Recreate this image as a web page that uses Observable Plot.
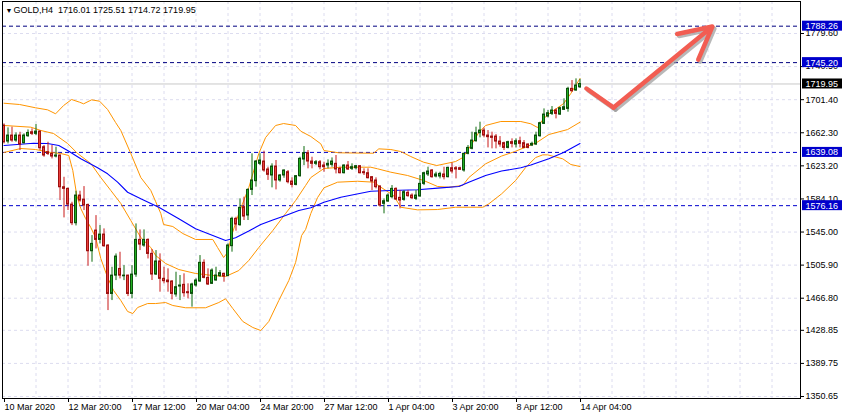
<!DOCTYPE html>
<html><head><meta charset="utf-8">
<script src="https://cdn.jsdelivr.net/npm/d3@7"></script>
<script src="https://cdn.jsdelivr.net/npm/@observablehq/plot@0.6"></script>
<style>body{margin:0;background:#fff}</style>
</head><body><div id="chart"></div>
<script>
const symbol = "GOLD", timeframe = "H4";

const opens = [1670.8,1651.9,1659.0,1653.1,1659.0,1649.9,1658.2,1662.9,1661.0,1663.7,
1645.2,1639.3,1637.3,1634.2,1635.4,1597.9,1596.0,1577.4,1555.4,1588.1,
1583.3,1577.0,1522.3,1546.7,1535.7,1542.0,1529.0,1471.8,1493.5,1501.4,
1492.7,1493.5,1471.8,1494.7,1535.7,1529.0,1535.7,1519.2,1494.8,1510.2,
1489.7,1487.7,1486.5,1471.2,1480.6,1482.6,1473.9,1471.9,1481.8,1486.5,
1508.6,1490.8,1483.8,1487.7,1492.8,1495.6,1492.8,1528.3,1560.6,1553.1,
1574.4,1564.5,1594.8,1605.1,1625.6,1628.3,1618.9,1611.8,1622.4,1605.9,
1611.8,1615.7,1604.7,1600.7,1611.0,1630.7,1638.2,1628.3,1625.6,1627.5,
1623.6,1623.6,1624.4,1625.6,1619.7,1614.5,1623.6,1619.7,1620.4,1622.8,
1615.7,1614.5,1609.8,1605.9,1598.8,1578.3,1581.0,1586.2,1596.0,1585.4,
1583.0,1591.3,1588.1,1584.2,1587.0,1601.9,1613.0,1617.7,1610.6,1610.6,
1613.0,1609.8,1620.4,1620.4,1620.4,1617.7,1637.4,1643.3,1652.3,1661.8,
1664.9,1659.0,1657.8,1657.8,1651.9,1650.0,1644.4,1651.2,1648.4,1652.3,
1650.0,1648.4,1647.2,1648.4,1658.2,1672.8,1681.5,1684.6,1688.6,1683.8,
1689.4,1690.5,1714.2,1712.2,1716.01];
const highs = [1672.8,1668.1,1668.9,1662.1,1662.9,1661.0,1665.7,1666.9,1672.0,1664.5,
1647.2,1651.1,1647.2,1645.2,1636.0,1609.7,1597.0,1580.2,1593.2,1593.2,
1598.7,1578.0,1540.8,1564.4,1552.6,1548.7,1530.0,1503.4,1519.1,1521.1,
1505.3,1494.0,1505.3,1554.6,1547.5,1547.5,1536.9,1524.3,1523.1,1519.2,
1503.4,1501.5,1487.7,1497.5,1493.6,1495.6,1483.8,1484.5,1489.7,1517.2,
1512.1,1501.5,1501.5,1503.4,1499.5,1496.4,1531.0,1562.5,1562.5,1584.2,
1586.2,1596.0,1637.4,1629.5,1637.4,1640.5,1621.6,1625.6,1629.5,1613.0,
1618.5,1617.7,1609.0,1611.8,1633.4,1646.0,1641.3,1633.4,1629.5,1629.5,
1627.5,1630.3,1632.6,1635.4,1621.6,1624.4,1628.3,1625.6,1623.6,1623.6,
1619.7,1619.7,1610.5,1609.0,1599.5,1584.2,1590.1,1599.9,1597.2,1594.0,
1594.0,1594.0,1590.1,1594.0,1611.8,1615.7,1621.6,1618.9,1615.7,1615.7,
1621.6,1621.6,1626.7,1622.4,1621.6,1638.2,1647.2,1663.0,1668.9,1674.8,
1667.7,1664.9,1663.0,1660.2,1657.8,1651.2,1652.3,1655.1,1655.1,1657.1,
1653.1,1649.2,1651.2,1663.0,1674.8,1690.5,1688.6,1693.3,1690.5,1692.5,
1702.4,1716.1,1724.0,1726.0,1725.51];
const lows = [1649.1,1649.1,1651.1,1651.1,1641.3,1649.1,1657.0,1659.0,1659.0,1641.3,
1633.4,1635.4,1631.4,1632.6,1582.2,1561.7,1570.4,1552.6,1552.2,1580.2,
1570.4,1504.6,1509.3,1525.0,1531.0,1527.0,1452.2,1464.0,1487.6,1489.6,
1487.6,1468.7,1466.0,1491.5,1523.1,1527.0,1513.2,1487.7,1493.6,1473.9,
1483.8,1473.9,1464.8,1468.0,1464.0,1468.0,1466.0,1456.2,1479.8,1485.7,
1489.7,1481.8,1483.0,1487.0,1491.6,1485.7,1492.4,1521.2,1546.0,1551.9,
1558.6,1558.6,1588.1,1598.0,1623.6,1615.7,1606.0,1597.2,1594.8,1603.9,
1608.6,1601.9,1597.2,1599.6,1609.8,1623.6,1619.7,1619.7,1623.6,1618.5,
1615.7,1619.7,1621.6,1613.7,1613.7,1613.7,1617.7,1617.7,1618.5,1613.7,
1611.8,1607.8,1594.0,1596.0,1574.4,1566.5,1580.3,1584.2,1582.2,1572.4,
1581.4,1586.2,1583.4,1582.2,1586.2,1599.9,1610.6,1608.6,1609.0,1607.8,
1606.6,1609.0,1613.7,1607.8,1617.7,1615.7,1636.2,1642.1,1651.2,1656.3,
1656.3,1644.4,1643.3,1643.3,1645.2,1641.3,1643.3,1644.4,1644.4,1644.4,
1643.3,1643.3,1646.0,1647.2,1657.1,1672.0,1679.9,1682.7,1678.7,1682.7,
1688.6,1686.6,1710.2,1711.4,1714.72];
const closes = [1651.1,1659.0,1653.1,1659.0,1648.4,1659.0,1662.1,1661.0,1663.7,1644.0,
1635.4,1637.3,1634.2,1635.4,1597.9,1596.0,1577.4,1555.4,1588.1,1582.2,
1576.3,1522.3,1531.0,1535.7,1542.0,1528.2,1471.8,1493.5,1516.0,1493.5,
1493.5,1471.8,1494.7,1535.7,1530.2,1535.7,1519.1,1494.8,1510.2,1489.7,
1486.9,1485.7,1471.9,1479.8,1481.8,1472.7,1472.7,1483.0,1487.7,1508.6,
1490.8,1483.0,1499.5,1493.6,1496.4,1492.4,1529.1,1560.6,1553.9,1573.6,
1563.3,1594.8,1605.9,1628.3,1629.5,1617.7,1612.6,1622.4,1605.9,1611.8,
1617.7,1603.9,1600.7,1611.0,1631.5,1638.2,1628.3,1625.6,1627.5,1621.6,
1621.6,1625.6,1628.3,1618.9,1614.5,1623.6,1618.9,1621.6,1622.8,1614.5,
1614.5,1608.6,1604.7,1598.0,1576.3,1581.4,1588.1,1596.0,1583.4,1582.2,
1592.1,1587.4,1585.0,1588.1,1601.9,1614.5,1616.5,1609.8,1613.0,1613.7,
1609.8,1620.8,1616.5,1618.9,1618.5,1637.4,1644.4,1653.1,1661.8,1664.9,
1659.0,1657.1,1656.3,1651.9,1648.4,1644.4,1651.2,1649.2,1652.3,1649.2,
1644.4,1644.4,1649.2,1659.0,1673.6,1683.8,1685.4,1688.6,1684.6,1691.3,
1692.5,1714.2,1711.4,1718.1,1719.95];

// Bollinger upper / middle / lower and moving average, read at bar positions
const upperIdx = [0,3.9,7.9,10.9,12.9,14.9,16.9,18.9,19.9,21.9,23.9,25.9,27.9,29.2,31.7,34.2,36.7,37.9,39.2,39.9,42.2,44.7,47.9,52.2,53.4,54.9,55.9,56.9,58.7,61.2,63.7,65.4,67.9,69.9,72.9,74.2,76.7,79.2,80,83.7,92.4,93.7,96.7,99.2,101.7,104.9,108.2,112.9,114.7,116.7,118.7,120.4,124.2,129.2,131.7,133.4,134.9,136.7,139.9,141.7,144];
const upperVal = [1697.2,1695.7,1691.8,1689.4,1684.7,1694.5,1701.6,1698.4,1696.5,1701.2,1699.6,1689.8,1674.4,1665.0,1637.8,1609.4,1594.1,1581.1,1566.9,1553.9,1551.5,1543.2,1536.2,1536.2,1526.7,1514.9,1520.8,1540.9,1566.9,1597.6,1637.8,1656.7,1670.9,1673.2,1670.9,1664.1,1657.9,1649.2,1641.3,1638.6,1638.1,1643.3,1642.5,1640.1,1634.2,1627.5,1623.6,1628.3,1633.0,1647.2,1662.6,1670.9,1675.6,1675.6,1672.9,1668.5,1679.1,1686.2,1696.8,1708.7,1726.4];
const midIdx = [0,6.7,9.2,12.4,15.9,18.4,21.7,24.2,26.7,29.2,31.7,34.2,36.7,37.9,40.4,43.7,47.9,52.2,55.4,58.7,61.2,63.7,67.2,70.4,72.9,75.4,76.7,80,84.2,91.7,93.4,96.7,100.9,104.9,108.4,111.2,114.7,116.2,120.4,124.4,127.7,133.2,136.2,140.9,144];
const midVal = [1670.9,1668.9,1665.0,1661.4,1649.6,1637.8,1626.0,1609.4,1594.1,1578.7,1558.6,1538.5,1526.7,1517.3,1507.8,1500.7,1496.0,1493.6,1492.5,1499.5,1511.4,1526.7,1546.8,1566.9,1582.2,1600.0,1609.4,1620.1,1621.6,1621.6,1619.7,1615.7,1611.8,1605.9,1598.8,1598.0,1600.0,1609.4,1625.6,1634.8,1640.1,1650.8,1660.2,1666.1,1674.8];
const lowerIdx = [0,4.2,7.9,11.7,14.2,16.2,17.2,18.2,19.2,20.4,21.7,22.9,24.2,25.9,27.4,29.2,30.9,32.2,33.4,35.9,37.9,40.4,42.2,45.4,50.4,53.7,55.4,57.2,59.7,62.2,64.2,66.2,68.7,71.2,72.9,74.4,75.4,76.7,78.4,80,83.4,88.4,92.4,94.2,97.4,99.2,103.4,108.4,112.9,119.7,121.2,124.4,127.9,130.4,132.9,134.7,135.9,139.7,141.7,144];
const lowerVal = [1639.0,1643.7,1642.5,1639.0,1637.8,1635.4,1617.7,1588.1,1572.8,1561.0,1550.3,1538.5,1513.7,1491.3,1475.9,1464.1,1451.1,1448.7,1455.8,1460.5,1460.5,1461.7,1458.2,1455.5,1455.5,1461.7,1466.1,1454.6,1439.3,1432.2,1428.6,1439.3,1464.1,1487.7,1509.0,1540.9,1548.0,1566.9,1585.8,1597.3,1603.9,1605.0,1603.9,1598.0,1588.1,1574.3,1571.2,1571.6,1574.3,1574.3,1578.3,1590.1,1605.9,1621.2,1633.0,1636.2,1636.2,1631.5,1624.8,1622.4];
const maIdx = [0,7.4,10.9,13.7,15.9,19.2,23.4,25.9,28.4,30.9,34.2,36.7,38.7,43.7,47.9,52.2,55.4,57.9,61.2,64.2,67.2,70.4,73.7,76.7,80,84.2,91.7,96.7,103.4,109.2,113.7,116.2,120.4,124.4,129.2,131.7,136.2,139.9,144];
const maVal = [1647.2,1649.9,1649.6,1647.2,1641.3,1631.5,1620.9,1613.8,1603.9,1592.0,1584.2,1578.7,1574.3,1560.6,1548.8,1540.9,1535.0,1538.2,1546.2,1553.9,1559.2,1564.5,1570.4,1573.6,1580.2,1586.1,1593.2,1594.0,1594.9,1597.2,1598.8,1603.9,1611.8,1617.1,1620.9,1624.2,1631.5,1639.0,1649.6];

const xTickIdx = [0,16,32,48,64,80,96,112,128,144];
const xTickLabels = ["10 Mar 2020","12 Mar 20:00","17 Mar 12:00","20 Mar 04:00","24 Mar 20:00","27 Mar 12:00","1 Apr 04:00","3 Apr 20:00","8 Apr 12:00","14 Apr 04:00"];
const yTicks = [1779.60,1740.50,1701.40,1662.30,1623.20,1584.10,1545.00,1505.90,1466.80,1428.85,1389.75,1350.65];
const levels = [1788.26,1745.20,1639.08,1576.16];
const arrowIdx = [145.6,152.4,177.1];
const arrowVal = [1714.6,1692.1,1787.8];

const n = closes.length;
const bars = d3.range(n).map(i => ({i, o: opens[i], h: highs[i], l: lows[i], c: closes[i], up: closes[i] >= opens[i]}));
const pts = (xs, ys) => xs.map((x, k) => ({x, y: ys[k]}));
const bid = closes[n - 1];

const xDom = [-0.375, 199.125];
const pxPerPrice = 0.84625;
const yDom = [1350.65 - 2 / pxPerPrice, 1350.65 + 395 / pxPerPrice];
const boxH = 5 / pxPerPrice;
const navy = "#000080", blue = "#0000cc", orange = "#ff9500";
const arrowPts = pts(arrowIdx, arrowVal);
const arrowSeg = [{x1: arrowIdx[1], y1: arrowVal[1], x2: arrowIdx[2], y2: arrowVal[2]}];

const fmt = d => d.toFixed(2);
const title = `${symbol},${timeframe}\u00a0\u00a0${fmt(opens[n-1])} ${fmt(highs[n-1])} ${fmt(lows[n-1])} ${fmt(closes[n-1])}`;

const chart = Plot.plot({
  width: 846, height: 419,
  marginLeft: 2, marginRight: 46, marginTop: 1, marginBottom: 21,
  x: {type: "linear", domain: xDom},
  y: {type: "linear", domain: yDom},
  style: {fontFamily: "'Liberation Sans', Arial, sans-serif", fontSize: "9px", background: "#fff", color: "#000"},
  marks: [
    Plot.gridY(yTicks, {stroke: "#dcdcef", strokeOpacity: 1, strokeDasharray: "3,3"}),
    Plot.gridX(d3.range(8, 193, 8), {stroke: "#dcdcef", strokeOpacity: 1, strokeDasharray: "3,3"}),
    Plot.ruleY([bid], {stroke: "#c8c8c8"}),
    Plot.ruleY(levels, {stroke: d => d > 1700 ? navy : blue, strokeDasharray: "4,3"}),
    Plot.line(pts(upperIdx, upperVal), {x: "x", y: "y", stroke: orange, strokeWidth: 1}),
    Plot.line(pts(midIdx, midVal), {x: "x", y: "y", stroke: orange, strokeWidth: 1}),
    Plot.line(pts(lowerIdx, lowerVal), {x: "x", y: "y", stroke: orange, strokeWidth: 1}),
    Plot.line(pts(maIdx, maVal), {x: "x", y: "y", stroke: "#0000ff", strokeWidth: 1.1}),
    Plot.ruleX(bars, {x: "i", y1: "l", y2: "h", stroke: d => d.up ? "#0d6b0d" : "#c81818"}),
    Plot.rect(bars, {x1: d => d.i - 0.25, x2: d => d.i + 0.25, y1: d => Math.min(d.o, d.c), y2: d => Math.max(d.o, d.c),
      fill: d => d.up ? "#22b022" : "#e8403c", stroke: d => d.up ? "#0b500b" : "#9e1010", strokeWidth: 1}),
    // arrow shadow
    Plot.line(arrowPts.slice(0, 2), {x: "x", y: "y", stroke: "#9a9a9a", strokeWidth: 4.5, dx: 2, dy: 2, strokeOpacity: 0.7}),
    Plot.arrow(arrowSeg, {x1: "x1", y1: "y1", x2: "x2", y2: "y2", stroke: "#9a9a9a", strokeWidth: 4.5, headLength: 12, headAngle: 55, dx: 2, dy: 2, strokeOpacity: 0.7}),
    // arrow
    Plot.line(arrowPts.slice(0, 2), {x: "x", y: "y", stroke: "#f25d52", strokeWidth: 4.5, strokeLinecap: "round"}),
    Plot.arrow(arrowSeg, {x1: "x1", y1: "y1", x2: "x2", y2: "y2", stroke: "#f25d52", strokeWidth: 4.5, headLength: 12, headAngle: 55}),
    Plot.frame({stroke: "#000"}),
    Plot.axisX(xTickIdx, {anchor: "bottom", tickSize: 4, tickPadding: 1, textAnchor: "start", dx: 0.5,
      tickFormat: d => xTickLabels[xTickIdx.indexOf(d)], label: null, fill: "#000"}),
    Plot.axisY(yTicks, {anchor: "right", tickSize: 3, tickPadding: 2, tickFormat: fmt, label: null, fill: "#000"}),
    Plot.rect(levels, {x1: xDom[1] + 0.5, x2: xDom[1] + 10.5, y1: d => d - boxH, y2: d => d + boxH, fill: blue}),
    Plot.text(levels, {x: xDom[1], y: d => d, dx: 5, text: fmt, fill: "#fff", textAnchor: "start"}),
    Plot.rect([bid], {x1: xDom[1] + 0.5, x2: xDom[1] + 10.5, y1: d => d - boxH, y2: d => d + boxH, fill: "#000"}),
    Plot.text([bid], {x: xDom[1], y: d => d, dx: 5, text: fmt, fill: "#fff", textAnchor: "start"}),
    Plot.text(["\u25BC"], {frameAnchor: "top-left", dx: 3, dy: 9, lineAnchor: "middle", textAnchor: "start", fontSize: 7, fill: "#000"}),
    Plot.text([title], {frameAnchor: "top-left", dx: 11, dy: 9, lineAnchor: "middle", textAnchor: "start", fill: "#000"})
  ]
});
document.getElementById("chart").appendChild(chart);
</script>
</body></html>
